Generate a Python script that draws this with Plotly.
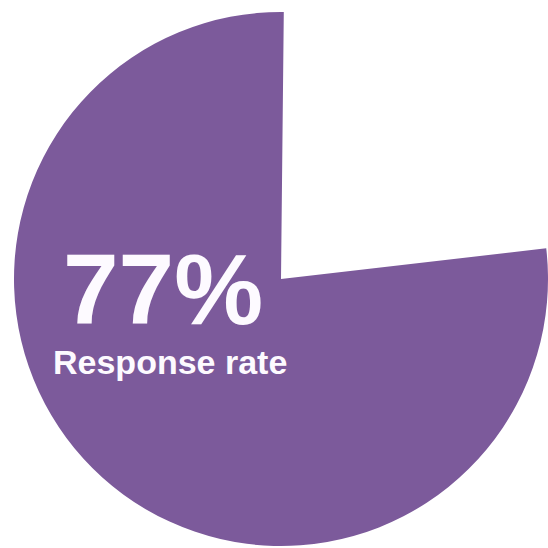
import plotly.graph_objects as go

labels = ["Non-response", "Response"]
values = [23, 77]
colors = ["#FFFFFF", "#7C5A9B"]
big_text = "77%"
sub_text = "Response rate"

fig = go.Figure(go.Pie(
    labels=labels, values=values, sort=False, direction="clockwise",
    rotation=0.6, marker=dict(colors=colors, line=dict(width=0)),
    textinfo="none", hoverinfo="skip", showlegend=False,
    domain=dict(x=[14/548, 1.0], y=[1/548, 1-11/548]),
))

fig.add_annotation(text=f"<b>{big_text}</b>", x=162.5/548, y=1-288.5/548, xref="paper", yref="paper",
                   showarrow=False, xanchor="center", yanchor="middle",
                   font=dict(family="Liberation Sans, Arial, sans-serif", size=100, color="#FDFAFF"))
fig.add_annotation(text=f"<b>{sub_text}</b>", x=170/548, y=1-362/548, xref="paper", yref="paper",
                   showarrow=False, xanchor="center", yanchor="middle",
                   font=dict(family="Liberation Sans, Arial, sans-serif", size=34, color="#FDFAFF"))

fig.update_layout(width=548, height=548, margin=dict(l=0, r=0, t=0, b=0),
                  paper_bgcolor="white", plot_bgcolor="white")
fig.write_html("out.html", config={"displayModeBar": False, "staticPlot": True},
               post_script="document.body.style.margin='0';document.body.style.overflow='hidden';")
